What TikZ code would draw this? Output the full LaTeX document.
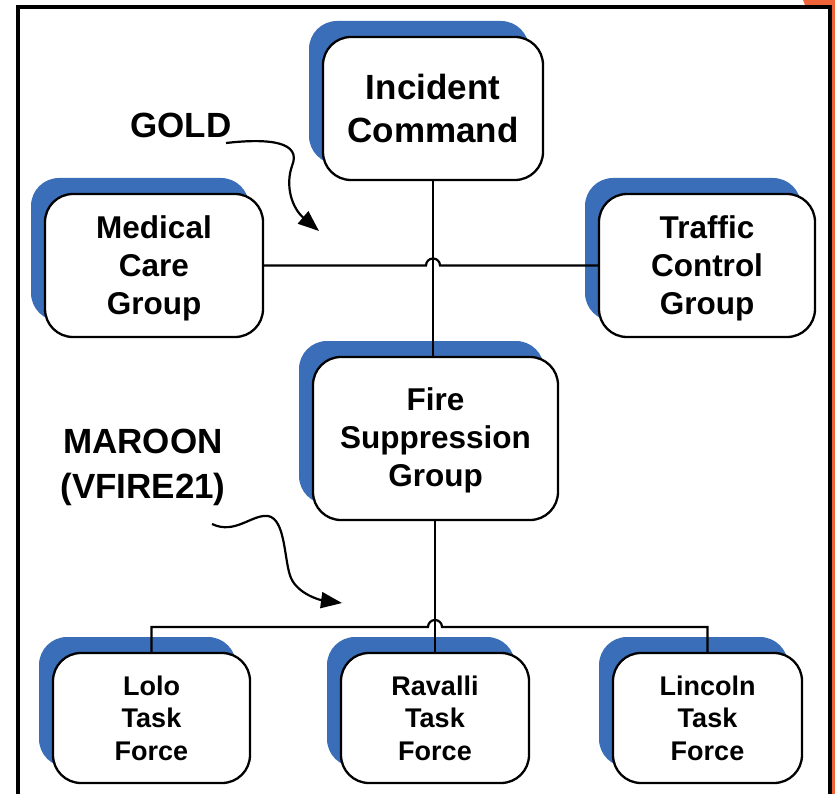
\documentclass[tikz,border=0pt]{standalone}
\usepackage{fontspec}
\setmainfont{Liberation Sans}
\usetikzlibrary{shadows,calc,arrows.meta}
\definecolor{shblue}{HTML}{3B6EB8}
\definecolor{frameorange}{HTML}{F0643A}
\tikzset{
  box/.style={draw=black, line width=2.3pt, fill=white, rounded corners=28pt,
    inner sep=0pt, align=center, font=\bfseries,
    general shadow={fill=shblue, shadow xshift=-14pt, shadow yshift=16pt}},
  conn/.style={line width=2.2pt, black},
  callout/.style={line width=2.2pt, black, -{Triangle[length=21pt,width=16pt]}},
  lbl/.style={font=\bfseries\fontsize{35}{45}\selectfont, align=center, inner sep=0pt}
}
\begin{document}
\begin{tikzpicture}[x=1pt,y=-1pt]
\useasboundingbox (0,0) rectangle (835,794);
\fill[white] (0,0) rectangle (835,794);
\fill[frameorange] (803,0) -- (835,0) -- (835,794) -- (832,794) -- (832,5) -- (805,5) -- cycle;
\draw[line width=4pt, black] (18,800) -- (18,7) -- (830,7) -- (830,800);

\node[box, minimum width=220pt, minimum height=143pt, font=\bfseries\fontsize{35}{43}\selectfont] (ic) at (433,108.5) {Incident\\Command};
\node[box, minimum width=218pt, minimum height=143pt, font=\bfseries\fontsize{31.5}{38}\selectfont] (med) at (154,265.5) {\rule{0pt}{28pt}Medical\\Care\\Group};
\node[box, minimum width=216pt, minimum height=143pt, font=\bfseries\fontsize{31.5}{38}\selectfont] (traffic) at (707,265.5) {\rule{0pt}{28pt}Traffic\\Control\\Group};
\node[box, minimum width=245pt, minimum height=163pt, font=\bfseries\fontsize{31.5}{38}\selectfont] (fire) at (435.5,438.5) {\rule{0pt}{27pt}Fire\\Suppression\\Group};
\node[box, minimum width=197pt, minimum height=130pt, font=\bfseries\fontsize{27}{32.5}\selectfont] (lolo) at (151.5,718) {Lolo\\Task\\Force};
\node[box, minimum width=188pt, minimum height=130pt, font=\bfseries\fontsize{27}{32.5}\selectfont] (ravalli) at (435,718) {Ravalli\\Task\\Force};
\node[box, minimum width=189pt, minimum height=130pt, font=\bfseries\fontsize{27}{32.5}\selectfont] (lincoln) at (707.5,718) {Lincoln\\Task\\Force};

\node[lbl] (gold) at (181,125) {GOLD};
\node[lbl] (maroon) at (143,467) {MAROON\\(VFIRE21)};

% connectors
\draw[conn] (ic.south) -- (ic.south |- fire.north);
\draw[conn] (med.east) -- ($(ic.south |- med.east)+(-7pt,0)$) arc[start angle=180,end angle=0,radius=7pt] -- (traffic.west);
\coordinate (bus) at (435,627);
\draw[conn] (fire.south -| ravalli.north) -- (ravalli.north);
\draw[conn] (lolo.north) -- (lolo.north |- bus) -- ($(ravalli.north |- bus)+(-7pt,0)$) arc[start angle=180,end angle=0,radius=7pt] -- (lincoln.north |- bus) -- (lincoln.north);

% callout arrows
\coordinate (g0) at (226,143);
\coordinate (g1) at (319,231);
\draw[callout] (g0) .. controls (270,138) and (302,142) .. (292,166) .. controls (285,186) and (292,208) .. (g1);
\coordinate (m0) at (212,524);
\coordinate (m1) at (342,603);
\draw[callout] (m0) .. controls (235,535) and (252,514) .. (268,516) .. controls (286,519) and (284,562) .. (291,578) .. controls (298,594) and (320,600) .. (m1);
\end{tikzpicture}
\end{document}
